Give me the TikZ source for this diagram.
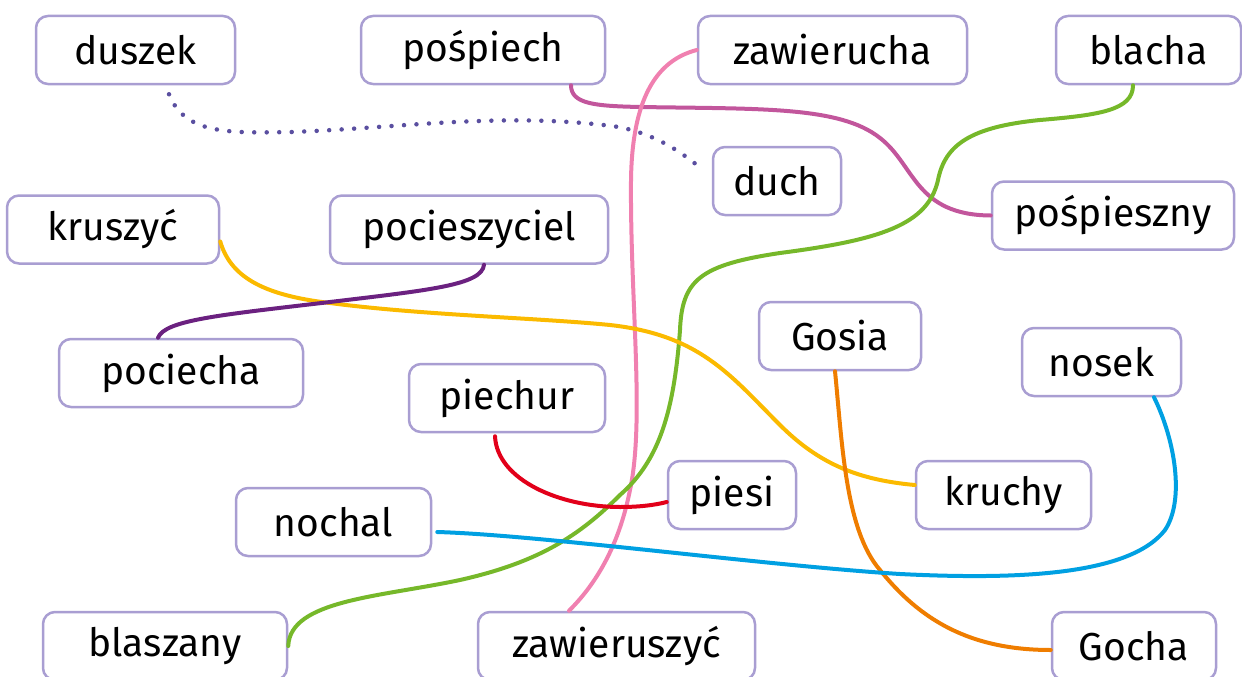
\documentclass[tikz,border=0pt]{standalone}
\usepackage{fontspec}
\setmainfont{Fira Sans}
\usetikzlibrary{calc}

\definecolor{boxline}{HTML}{A99ED2}
\definecolor{dotline}{HTML}{5A4FA0}
\definecolor{magline}{HTML}{C2569C}
\definecolor{pinkline}{HTML}{F080B0}
\definecolor{greenline}{HTML}{76B82A}
\definecolor{yellowline}{HTML}{FBBA00}
\definecolor{purpleline}{HTML}{6B2180}
\definecolor{orangeline}{HTML}{EF7D00}
\definecolor{blueline}{HTML}{00A0E2}
\definecolor{redline}{HTML}{E2001A}

\begin{document}
\begin{tikzpicture}[x=1pt, y=-1pt, line cap=round, line join=round,
    word/.style={draw=boxline, line width=2.5pt, rounded corners=12pt, fill=white,
      minimum height=68pt, inner sep=0pt, font=\fontsize{39}{42}\selectfont},
    link/.style={line width=4pt}]
    \useasboundingbox (0,0) rectangle (1242,677);

    % words
    \node[word, minimum width=199pt] (duszek) at (135.5,50) {duszek};
    \node[word, minimum width=244pt] (pospiech) at (483,50) {pośpiech};
    \node[word, minimum width=269pt] (zawierucha) at (832.5,50) {zawierucha};
    \node[word, minimum width=185pt] (blacha) at (1148.5,50) {blacha};
    \node[word, minimum width=128pt] (duch) at (777,181) {duch};
    \node[word, minimum width=242pt] (pospieszny) at (1113,215.5) {pośpieszny};
    \node[word, minimum width=212pt] (kruszyc) at (113,229.5) {kruszyć};
    \node[word, minimum width=278pt] (pocieszyciel) at (469,229.5) {pocieszyciel};
    \node[word, minimum width=244pt] (pociecha) at (181,373) {pociecha};
    \node[word, minimum width=162pt] (Gosia) at (840,336) {Gosia};
    \node[word, minimum width=159pt] (nosek) at (1101.5,362) {nosek};
    \node[word, minimum width=196pt] (piechur) at (507,398) {piechur};
    \node[word, minimum width=128pt] (piesi) at (732,495) {piesi};
    \node[word, minimum width=175pt] (kruchy) at (1003.5,495) {kruchy};
    \node[word, minimum width=195pt] (nochal) at (333.5,522) {nochal};
    \node[word, minimum width=244pt] (blaszany) at (165,646) {blaszany};
    \node[word, minimum width=277pt] (zawieruszyc) at (616.5,646) {zawieruszyć};
    \node[word, minimum width=164pt] (Gocha) at (1134,646) {Gocha};

    % pairs
    \draw[dotline, line width=4.5pt, dash pattern=on 0pt off 12.5pt]
      ([xshift=33.5pt,yshift=-9pt]duszek.south) .. controls (185,135) and (230,133) .. (292,132)
      .. controls (400,128) and (500,112) .. (612,126)
      .. controls (655,132) and (685,155) .. ([xshift=-10pt,yshift=12pt]duch.west);
    \draw[link, magline] ([xshift=88pt]pospiech.south) .. controls (571,104) and (595,106) .. (640,107)
      .. controls (760,109) and (840,106) .. (880,138)
      .. controls (915,165) and (915,215) .. (pospieszny.west);
    \draw[link, pinkline] (zawierucha.west) .. controls (650,62) and (632,110) .. (631,180)
      .. controls (630,300) and (645,420) .. (630,490)
      .. controls (620,540) and (600,580) .. ([xshift=-47.5pt]zawieruszyc.north);
    \draw[link, greenline] ([xshift=-15.5pt]blacha.south) .. controls (1133,110) and (1100,115) .. (1040,120)
      .. controls (970,127) and (945,145) .. (938,180)
      .. controls (928,225) and (880,240) .. (780,253)
      .. controls (700,265) and (682,280) .. (680,330)
      .. controls (674,410) and (660,460) .. (620,495)
      .. controls (580,535) and (540,562) .. (460,580)
      .. controls (380,597) and (290,600) .. (blaszany.east);
    \draw[link, yellowline] ([yshift=-12pt]kruszyc.east) .. controls (230,275) and (260,295) .. (330,303)
      .. controls (420,315) and (540,318) .. (610,325)
      .. controls (700,335) and (730,375) .. (780,425)
      .. controls (820,465) and (860,480) .. ([yshift=10pt]kruchy.west);
    \draw[link, purpleline] ([xshift=15pt]pocieszyciel.south) .. controls (482,285) and (430,290) .. (330,302)
      .. controls (220,315) and (165,320) .. ([xshift=-23pt]pociecha.north);
    \draw[link, orangeline] ([xshift=-5pt]Gosia.south) .. controls (842,440) and (845,530) .. (880,570)
      .. controls (920,620) and (970,650) .. ([yshift=-4pt]Gocha.west);
    \draw[link, blueline] ([xshift=52.5pt]nosek.south) .. controls (1175,440) and (1185,500) .. (1165,530)
      .. controls (1130,575) and (1020,580) .. (900,574)
      .. controls (760,565) and (540,535) .. ([xshift=5pt,yshift=-10pt]nochal.east);
    \draw[link, redline] ([xshift=-12pt,yshift=-3pt]piechur.south) .. controls (497,480) and (560,507) .. (620,507)
      .. controls (640,507) and (655,505) .. ([yshift=-7pt]piesi.west);
\end{tikzpicture}
\end{document}
